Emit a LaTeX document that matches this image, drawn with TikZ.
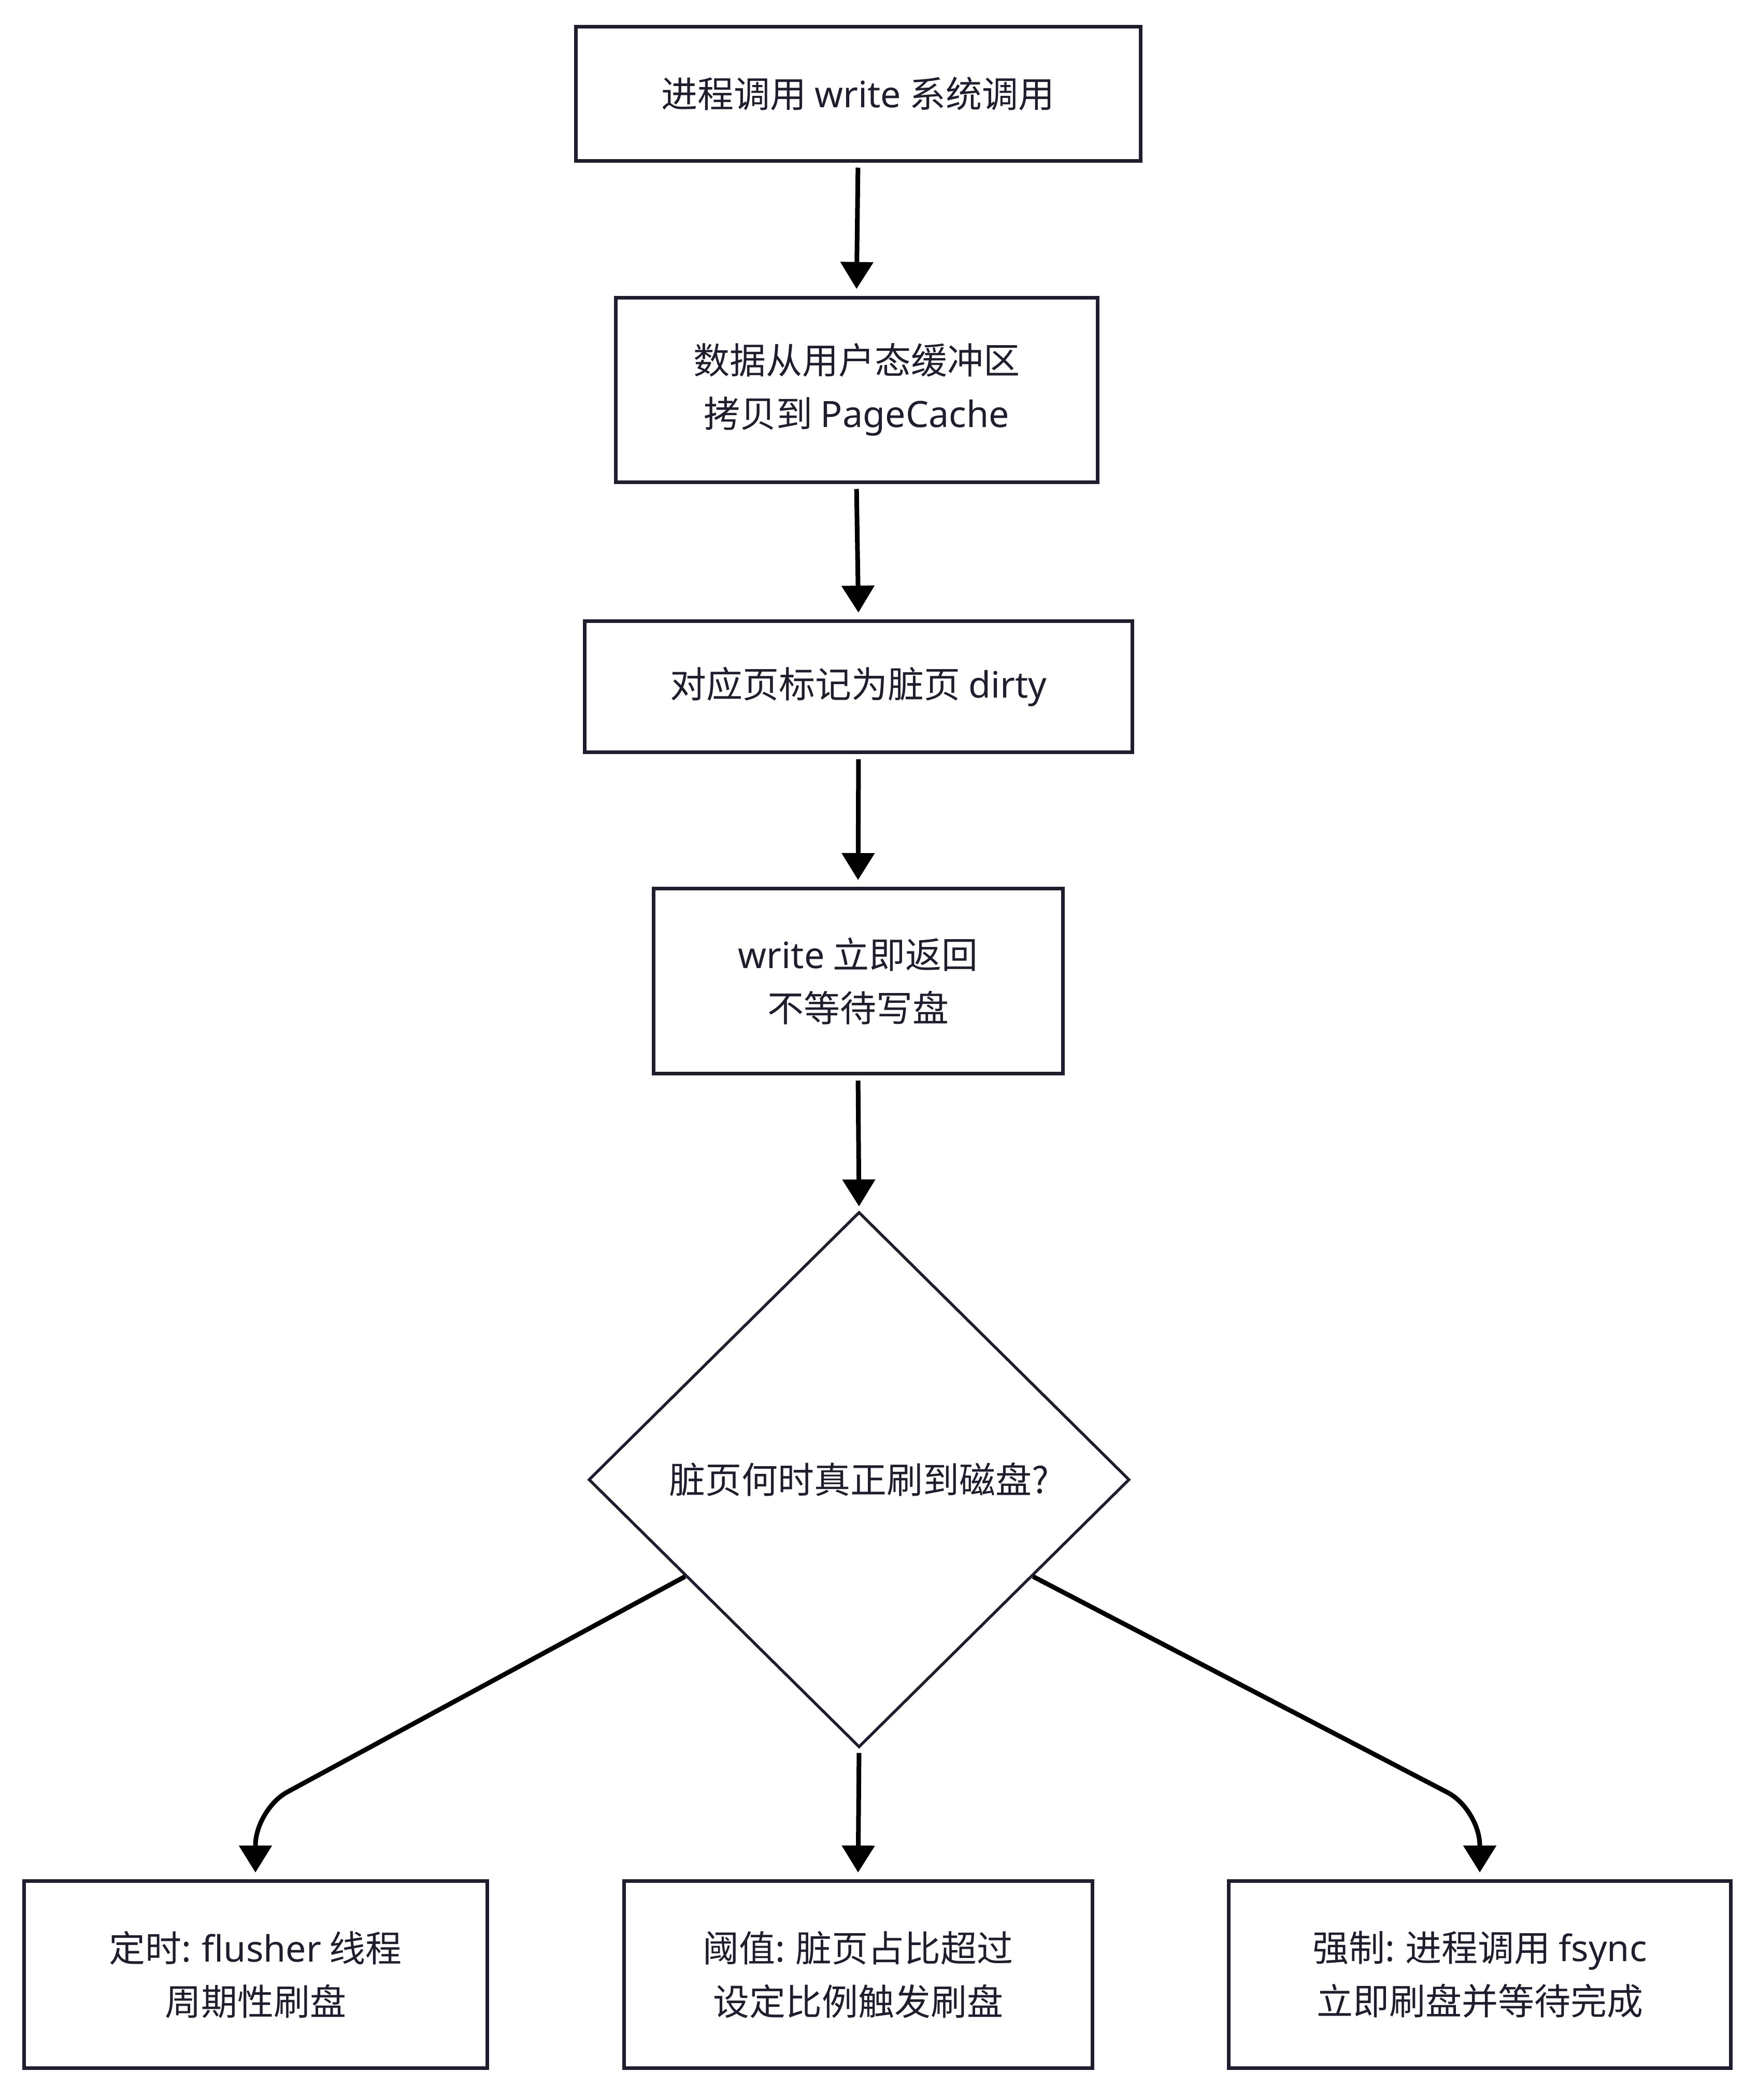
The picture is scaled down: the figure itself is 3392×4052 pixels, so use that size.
\documentclass[tikz,border=0pt]{standalone}
\usepackage{fontspec}
\setmainfont{Noto Sans CJK SC}
\newfontfamily\lat{Noto Sans}
\usetikzlibrary{shapes.geometric,arrows.meta,calc}
\definecolor{ink}{HTML}{1E1E2E}
\begin{document}
\begin{tikzpicture}[x=1pt,y=-1pt,
  box/.style={draw=ink, line width=7pt, fill=white, align=center, text=ink,
    font=\fontsize{70}{103}\selectfont, inner sep=0pt},
  dia/.style={diamond, draw=ink, line width=5.5pt, fill=white, align=center, text=ink,
    font=\fontsize{70}{103}\selectfont, inner sep=0pt, aspect=1},
  arr/.style={draw=black, line width=9pt, -{Triangle[width=62pt,length=52pt]},
    shorten <=10pt, shorten >=13pt}]
\fill[white] (0,0) rectangle (3392,4052);
\useasboundingbox (0,0) rectangle (3392,4052);

\node[box, minimum width=1090pt, minimum height=258pt] (b1) at (1656,181) {进程调用 {\lat write} 系统调用};
\node[box, minimum width=930pt, minimum height=356pt] (b2) at (1653,752) {数据从用户态缓冲区\\拷贝到 {\lat PageCache}};
\node[box, minimum width=1057pt, minimum height=253pt] (b3) at (1657,1325) {对应页标记为脏页 {\lat dirty}};
\node[box, minimum width=790pt, minimum height=357pt] (b4) at (1656,1893) {{\lat write} 立即返回\\不等待写盘};
\node[dia, minimum width=1044pt, minimum height=1033pt] (d) at (1658,2855) {脏页何时真正刷到磁盘?};

\node[box, minimum width=894pt, minimum height=361pt] (l) at (493,3810) {定时{\lat :} {\lat flusher} 线程\\周期性刷盘};
\node[box, minimum width=904pt, minimum height=361pt] (m) at (1656,3810) {阈值{\lat :} 脏页占比超过\\设定比例触发刷盘};
\node[box, minimum width=969pt, minimum height=361pt] (r) at (2856,3810) {强制{\lat :} 进程调用 {\lat fsync}\\立即刷盘并等待完成};

\draw[arr] (b1.south) -- (b2.north);
\draw[arr] (b2.south) -- (b3.north);
\draw[arr] (b3.south) -- (b4.north);
\draw[arr, shorten >=8pt] (b4.south) -- (d.north);
\draw[arr, shorten <=8pt] (d.south) -- (m.north);

\coordinate (ls) at ($(d.west)!0.36!(d.south)$);
\coordinate (rs) at ($(d.east)!0.36!(d.south)$);
\coordinate (lc) at ($(l.north)+(0,-135)$);
\coordinate (rc) at ($(r.north)+(0,-135)$);
\draw[arr, shorten <=0pt, rounded corners=70pt] (ls) -- (lc) -- (l.north);
\draw[arr, shorten <=0pt, rounded corners=70pt] (rs) -- (rc) -- (r.north);
\end{tikzpicture}
\end{document}
